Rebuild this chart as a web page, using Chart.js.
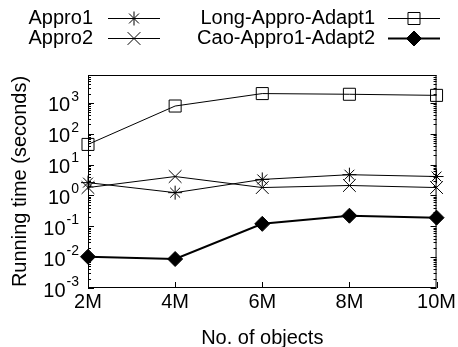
<!DOCTYPE html>
<html>
<head>
<meta charset="utf-8">
<script src="https://cdn.jsdelivr.net/npm/chart.js@4"></script>
<style>
  html, body { margin: 0; padding: 0; background: #fff; }
  #wrap { width: 458px; height: 347px; }
</style>
</head>
<body>
<div id="wrap"><canvas id="myChart"></canvas></div>
<script>
const objects = ["2M", "4M", "6M", "8M", "10M"];
const appro1 = [2.6, 1.23, 3.3, 4.7, 4.1];
const appro2 = [1.8, 4.1, 1.8, 2.1, 1.8];
const longAdapt1 = [45, 790, 2000, 1900, 1750];
const caoAdapt2 = [0.0103, 0.0087, 0.12, 0.22, 0.19];
const yDecades = [-3, -2, -1, 0, 1, 2, 3];

const FONT = "'Liberation Sans', Arial, Helvetica, sans-serif";

// frame + inward ticks like gnuplot
const framePlugin = {
  id: "frame",
  beforeDatasetsDraw(chart) {
    const { ctx, chartArea: a, scales } = chart;
    ctx.save();
    ctx.strokeStyle = "#000";
    ctx.lineWidth = 1;
    ctx.strokeRect(a.left + 0.5, a.top + 0.5, a.right - a.left - 1, a.bottom - a.top - 1);
    ctx.beginPath();
    const y = scales.y;
    yDecades.forEach((d) => {
      for (let m = 1; m <= 9; m++) {
        const v = m * Math.pow(10, d);
        if (v > y.max) break;
        const py = Math.round(y.getPixelForValue(v)) + 0.5;
        const len = m === 1 ? 6 : 3;
        ctx.moveTo(a.left, py); ctx.lineTo(a.left + len, py);
        ctx.moveTo(a.right, py); ctx.lineTo(a.right - len, py);
      }
    });
    objects.forEach((o, i) => {
      const px = Math.round(scales.x.getPixelForValue(i)) + 0.5;
      ctx.moveTo(px, a.bottom); ctx.lineTo(px, a.bottom - 6);
    });
    ctx.stroke();
    ctx.restore();
  },
  afterDraw(chart) {
    const { ctx, scales } = chart;
    ctx.save();
    ctx.fillStyle = "#000";
    ctx.textBaseline = "middle";
    // y tick labels 10^n
    yDecades.forEach((d) => {
      const py = scales.y.getPixelForValue(Math.pow(10, d));
      ctx.font = "20px " + FONT;
      const w10 = ctx.measureText("10").width;
      const exp = d < 0 ? "-" + Math.abs(d) : String(d);
      ctx.font = "14px " + FONT;
      const wExp = ctx.measureText(exp).width;
      const x0 = 78 - w10 - wExp;
      ctx.font = "20px " + FONT;
      ctx.textAlign = "left";
      ctx.fillText("10", x0, py + 3);
      ctx.font = "14px " + FONT;
      ctx.fillText(exp, x0 + w10 + 1, py - 6);
    });
    // legend, two columns: text right-aligned then line sample
    const rows = [
      { ds: 0, textX: 93, lineX: [108, 160], y: 18 },
      { ds: 1, textX: 93, lineX: [108, 160], y: 38 },
      { ds: 2, textX: 375, lineX: [388, 440], y: 18 },
      { ds: 3, textX: 375, lineX: [388, 440], y: 38 },
    ];
    rows.forEach((r) => {
      const ds = chart.data.datasets[r.ds];
      ctx.font = "20px " + FONT;
      ctx.textAlign = "right";
      ctx.fillStyle = "#000";
      ctx.fillText(ds.label, r.textX, r.y);
      ctx.beginPath();
      ctx.strokeStyle = "#000";
      ctx.lineWidth = ds.borderWidth;
      ctx.moveTo(r.lineX[0], r.y + 0.5);
      ctx.lineTo(r.lineX[1], r.y + 0.5);
      ctx.stroke();
      ctx.fillStyle = ds.pointBackgroundColor;
      ctx.strokeStyle = "#000";
      ctx.lineWidth = 1;
      Chart.helpers.drawPoint(ctx, {
        pointStyle: ds.pointStyle,
        radius: ds.pointRadius,
        rotation: 0,
        borderWidth: 1,
      }, (r.lineX[0] + r.lineX[1]) / 2, r.y + 0.5);
    });
    ctx.restore();
  },
};

function makeSet(label, data, style, radius, fill, width) {
  return {
    label: label,
    data: data,
    borderColor: "#000",
    borderWidth: width,
    pointStyle: style,
    pointRadius: radius,
    pointHoverRadius: radius,
    pointBorderColor: "#000",
    pointBorderWidth: 1,
    pointBackgroundColor: fill,
    tension: 0,
    clip: false,
  };
}

window.onload = function () {
  const ctx = document.getElementById("myChart");

  new Chart(ctx, {
    type: "line",
    data: {
      labels: objects,
      datasets: [
        makeSet("Appro1", appro1, "star", 7, "#000", 1),
        makeSet("Appro2", appro2, "crossRot", 9, "#000", 1),
        makeSet("Long-Appro-Adapt1", longAdapt1, "rect", 8.5, "rgba(0,0,0,0)", 1),
        makeSet("Cao-Appro1-Adapt2", caoAdapt2, "rectRot", 7.5, "#000", 2),
      ],
    },
    options: {
      responsive: true,
      maintainAspectRatio: false,
      animation: false,
      layout: { padding: { top: 75, right: 21, left: 0, bottom: 0 } },
      plugins: { legend: { display: false }, tooltip: { enabled: false } },
      scales: {
        x: {
          type: "category",
          offset: false,
          grid: { display: false, drawTicks: false },
          border: { display: false },
          ticks: { color: "#000", font: { family: FONT, size: 20 }, padding: 2, autoSkip: false, maxRotation: 0 },
          title: { display: true, text: "No. of objects", color: "#000", font: { family: FONT, size: 20 }, padding: { top: 0, bottom: -3 } },
          afterFit: (scale) => { scale.height = 59; },
        },
        y: {
          type: "logarithmic",
          min: 0.001,
          max: 8000,
          grid: { display: false, drawTicks: false },
          border: { display: false },
          ticks: { display: false },
          title: { display: true, text: "Running time (seconds)", color: "#000", font: { family: FONT, size: 20 }, padding: { top: 8, bottom: 0 } },
          afterFit: (scale) => { scale.width = 88; },
        },
      },
    },
    plugins: [framePlugin],
  });
};
</script>
</body>
</html>
